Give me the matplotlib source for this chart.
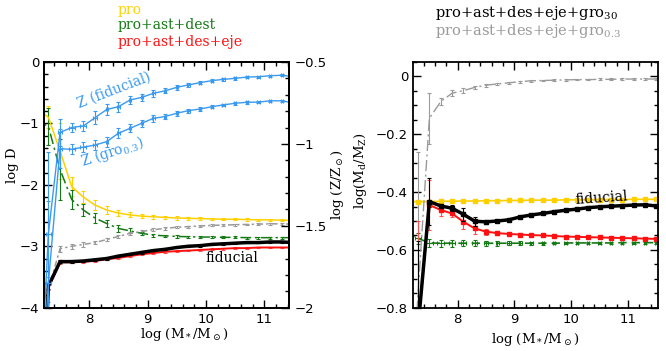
import matplotlib
matplotlib.use('Agg')

import matplotlib.pyplot as plt
import numpy as np

plt.rcParams['mathtext.fontset'] = 'dejavuserif'

# ---------------------------
# DATA
# ---------------------------
mass = [7.1, 7.3, 7.5, 7.7, 7.9, 8.1, 8.3, 8.5, 8.7, 8.9, 9.1, 9.3,
        9.5, 9.7, 9.9, 10.1, 10.3, 10.5, 10.7, 10.9, 11.1, 11.3, 11.5]

# left panel: log D
logD_pro = [-0.75, -0.90, -1.45, -2.03, -2.20, -2.33, -2.41, -2.46, -2.49, -2.51, -2.52, -2.53,
            -2.54, -2.545, -2.55, -2.555, -2.56, -2.56, -2.565, -2.57, -2.57, -2.575, -2.58]
logD_pro_err = [0.2, 0.18, 0.45, 0.15, 0.10, 0.08, 0.06, 0.05, 0.04, 0.035, 0.03, 0.03,
                0.025, 0.02, 0.02, 0.02, 0.02, 0.02, 0.02, 0.02, 0.02, 0.02, 0.02]

logD_dest = [-0.95, -1.05, -1.75, -2.24, -2.41, -2.54, -2.63, -2.71, -2.75, -2.79, -2.82, -2.83,
             -2.84, -2.845, -2.85, -2.85, -2.855, -2.855, -2.86, -2.86, -2.86, -2.86, -2.86]
logD_dest_err = [0.2, 0.3, 0.5, 0.15, 0.10, 0.08, 0.06, 0.05, 0.04, 0.03, 0.025, 0.02,
                 0.02, 0.02, 0.015, 0.015, 0.015, 0.015, 0.015, 0.015, 0.015, 0.015, 0.015]

logD_gro03 = [-5.0, -3.70, -3.04, -3.00, -2.97, -2.94, -2.89, -2.84, -2.79, -2.76, -2.73, -2.71,
              -2.69, -2.68, -2.67, -2.66, -2.655, -2.65, -2.645, -2.64, -2.635, -2.635, -2.64]
logD_gro03_err = [0.2, 0.2, 0.05, 0.04, 0.035, 0.03, 0.03, 0.025, 0.02, 0.02, 0.02, 0.02,
                  0.015, 0.015, 0.015, 0.015, 0.015, 0.015, 0.015, 0.015, 0.015, 0.015, 0.015]

logD_eje = [-8.0, -3.67, -3.26, -3.26, -3.25, -3.24, -3.21, -3.19, -3.16, -3.13, -3.11, -3.09,
            -3.08, -3.07, -3.06, -3.05, -3.04, -3.03, -3.03, -3.02, -3.02, -3.02, -3.02]
logD_fid = [-8.0, -3.65, -3.25, -3.25, -3.24, -3.22, -3.20, -3.16, -3.13, -3.10, -3.07, -3.05,
            -3.02, -3.00, -2.99, -2.97, -2.96, -2.95, -2.94, -2.94, -2.93, -2.93, -2.94]
logD_small_err = [0.05, 0.05, 0.03, 0.02, 0.02, 0.02, 0.02, 0.02, 0.02, 0.02, 0.015, 0.015,
                  0.015, 0.015, 0.015, 0.015, 0.015, 0.015, 0.015, 0.015, 0.015, 0.015, 0.015]

# left panel, right axis: log Z/Zsun
logZ_fid = [-3.0, -1.55, -0.93, -0.90, -0.89, -0.84, -0.79, -0.773, -0.732, -0.716, -0.691, -0.676,
            -0.655, -0.64, -0.626, -0.614, -0.606, -0.60, -0.592, -0.59, -0.584, -0.581, -0.59]
logZ_fid_err = [0.5, 0.5, 0.08, 0.03, 0.03, 0.04, 0.035, 0.03, 0.025, 0.02, 0.02, 0.015,
                0.015, 0.012, 0.01, 0.01, 0.008, 0.008, 0.008, 0.007, 0.007, 0.007, 0.007]
logZ_gro03 = [-3.0, -1.85, -1.03, -1.033, -1.02, -1.007, -0.986, -0.935, -0.905, -0.874, -0.844, -0.833,
              -0.813, -0.797, -0.787, -0.773, -0.762, -0.752, -0.746, -0.745, -0.737, -0.737, -0.75]
logZ_gro03_err = [0.5, 0.5, 0.12, 0.03, 0.03, 0.03, 0.03, 0.03, 0.025, 0.02, 0.02, 0.015,
                  0.015, 0.012, 0.01, 0.01, 0.008, 0.008, 0.008, 0.007, 0.007, 0.007, 0.007]
logZ_xerr = [0.04, 0.04, 0.04, 0.05, 0.05, 0.03, 0.02, 0.02, 0.02, 0.02, 0.02, 0.02,
             0.02, 0.02, 0.02, 0.02, 0.02, 0.02, 0.02, 0.02, 0.02, 0.02, 0.02]

# right panel: log(Md/MZ)
ratio_pro = [-0.433, -0.433, -0.433, -0.432, -0.432, -0.431, -0.431, -0.430, -0.430, -0.429, -0.429, -0.428,
             -0.428, -0.428, -0.427, -0.427, -0.427, -0.426, -0.426, -0.426, -0.425, -0.425, -0.425]
ratio_dest = [-0.545, -0.56, -0.576, -0.577, -0.577, -0.577, -0.577, -0.577, -0.577, -0.577, -0.577, -0.577,
              -0.577, -0.577, -0.576, -0.576, -0.576, -0.576, -0.576, -0.575, -0.575, -0.575, -0.575]
ratio_dest_err = [0.02, 0.02, 0.015, 0.012, 0.012, 0.01, 0.01, 0.008, 0.008, 0.006, 0.006, 0.005,
                  0.005, 0.004, 0.004, 0.004, 0.004, 0.003, 0.003, 0.003, 0.003, 0.003, 0.003]
ratio_dest_xerr = [0.06, 0.06, 0.07, 0.06, 0.05, 0.04, 0.04, 0.035, 0.03, 0.03, 0.025, 0.02,
                   0.02, 0.02, 0.02, 0.02, 0.02, 0.02, 0.02, 0.02, 0.02, 0.02, 0.02]
ratio_eje = [-1.3, -0.87, -0.445, -0.462, -0.474, -0.503, -0.526, -0.537, -0.542, -0.545, -0.547, -0.549,
             -0.550, -0.552, -0.554, -0.555, -0.556, -0.557, -0.558, -0.559, -0.560, -0.561, -0.562]
ratio_eje_err = [0.3, 0.37, 0.087, 0.02, 0.012, 0.025, 0.02, 0.01, 0.006, 0.005, 0.004, 0.004,
                 0.003, 0.003, 0.003, 0.003, 0.003, 0.003, 0.003, 0.003, 0.003, 0.003, 0.003]
ratio_fid = [-1.3, -0.87, -0.433, -0.448, -0.456, -0.477, -0.501, -0.503, -0.500, -0.496, -0.486, -0.479,
             -0.474, -0.468, -0.463, -0.459, -0.454, -0.451, -0.449, -0.447, -0.445, -0.444, -0.448]
ratio_fid_err = [0.3, 0.3, 0.08, 0.008, 0.01, 0.023, 0.015, 0.006, 0.005, 0.004, 0.004, 0.003,
                 0.003, 0.003, 0.003, 0.003, 0.003, 0.003, 0.003, 0.003, 0.003, 0.003, 0.003]
ratio_gro03 = [-1.5, -0.75, -0.145, -0.087, -0.058, -0.049, -0.038, -0.030, -0.026, -0.022, -0.018, -0.015,
               -0.014, -0.013, -0.012, -0.011, -0.011, -0.010, -0.010, -0.009, -0.009, -0.009, -0.009]
ratio_gro03_err = [0.4, 0.49, 0.088, 0.012, 0.01, 0.008, 0.006, 0.005, 0.004, 0.003, 0.003, 0.003,
                   0.003, 0.003, 0.003, 0.003, 0.003, 0.003, 0.003, 0.003, 0.003, 0.003, 0.003]

# ---------------------------
# STYLE
# ---------------------------
c_pro = '#ffd000'
c_dest = '#137a13'
c_eje = '#ff1010'
c_fid = 'black'
c_gro = '#9a9a9a'
c_blue = '#3a9af0'

serif = 'DejaVu Serif'

fig = plt.figure(figsize=(6.66, 3.51), dpi=100)
ax = fig.add_axes([0.0665, 0.1234, 0.368, 0.70])
ax_z = ax.twinx()
ax_r = fig.add_axes([0.620, 0.1234, 0.368, 0.70])


def eb(axis, y, yerr, color, lw=1.0, dashes=None, xerr=None, ecolor=None, z=2):
    line, caps, bars = axis.errorbar(mass, y, yerr=yerr, xerr=xerr, color=color, lw=lw,
                                     ecolor=ecolor or color, elinewidth=0.8, capsize=1.6,
                                     capthick=0.8, zorder=z)
    if dashes is not None:
        line.set_dashes(dashes)
    return line


# ---------------------------
# LEFT PANEL
# ---------------------------
eb(ax, logD_pro, logD_pro_err, c_pro, lw=1.1)
eb(ax, logD_dest, logD_dest_err, c_dest, lw=1.1, dashes=(7, 2.5, 1.5, 2.5))
eb(ax, logD_gro03, logD_gro03_err, c_gro, lw=1.1, dashes=(4, 2, 1.5, 2))
eb(ax, logD_eje, logD_small_err, c_eje, lw=1.4, ecolor='#ff5050')
eb(ax, logD_fid, logD_small_err, c_fid, lw=2.5, z=3)

eb(ax_z, logZ_fid, logZ_fid_err, c_blue, lw=1.0, xerr=logZ_xerr)
eb(ax_z, logZ_gro03, logZ_gro03_err, c_blue, lw=1.0, xerr=logZ_xerr)

ax.set_xlim(7.23, 11.43)
ax.set_ylim(-4, 0)
ax_z.set_ylim(-2, -0.5)

ax.set_xticks([8, 9, 10, 11])
ax.set_xticks(np.arange(7.4, 11.5, 0.2), minor=True)
ax.set_yticks([-4, -3, -2, -1, 0])
ax.set_yticks(np.arange(-4, 0.01, 0.2), minor=True)
ax_z.set_yticks([-2, -1.5, -1, -0.5])
ax_z.set_yticks(np.arange(-2, -0.49, 0.1), minor=True)
ax_z.set_yticklabels(['\u22122', '\u22121.5', '\u22121', '\u22120.5'])

ax.tick_params(which='both', direction='in', top=True, right=False, labelsize=9.5)
ax.tick_params(which='major', length=6, width=1)
ax.tick_params(which='minor', length=3, width=1)
ax_z.tick_params(which='both', direction='in', labelsize=9.5)
ax_z.tick_params(which='major', length=6, width=1)
ax_z.tick_params(which='minor', length=3, width=1)

for a in (ax, ax_z, ax_r):
    for s in a.spines.values():
        s.set_linewidth(1.3)

ax.set_xlabel(r'log (M$_*$/M$_\odot$)', family=serif, fontsize=9.5, labelpad=4)
ax.xaxis.set_label_coords(0.57, -0.075)
ax.set_ylabel('log D', family=serif, fontsize=9.5, labelpad=2)
ax.yaxis.set_label_coords(-0.105, 0.58)
ax_z.set_ylabel(r'log (Z/Z$_\odot$)', family=serif, fontsize=9.5, labelpad=2)

ax.text(8.42, -0.46, 'Z (fiducial)', color=c_blue, family=serif, fontsize=10,
        rotation=21, ha='center', va='center')
ax.text(8.4, -1.47, r'Z (gro$_{0.3}$)', color=c_blue, family=serif, fontsize=10,
        rotation=18, ha='center', va='center')
ax.text(10.44, -3.19, 'fiducial', color='black', family=serif, fontsize=10,
        ha='center', va='center')

# ---------------------------
# RIGHT PANEL
# ---------------------------
eb(ax_r, ratio_pro, None, c_pro, lw=1.2)
eb(ax_r, ratio_dest, ratio_dest_err, c_dest, lw=1.2, dashes=(5, 3), xerr=ratio_dest_xerr)
eb(ax_r, ratio_gro03, ratio_gro03_err, c_gro, lw=1.0, dashes=(8, 2.5, 1.5, 2.5))
eb(ax_r, ratio_eje, ratio_eje_err, c_eje, lw=1.4, ecolor='#ff5050')
eb(ax_r, ratio_fid, ratio_fid_err, c_fid, lw=2.5, z=3)
ax_r.plot(mass, ratio_pro, ls='none', marker='s', ms=2.2, color=c_pro)
ax_r.plot(mass[2:], ratio_eje[2:], ls='none', marker='s', ms=2.2, color=c_eje)
ax_r.plot(mass[2:], ratio_fid[2:], ls='none', marker='s', ms=2.8, color=c_fid, zorder=4)

ax_r.set_xlim(7.21, 11.53)
ax_r.set_ylim(-0.8, 0.05)
ax_r.set_xticks([8, 9, 10, 11])
ax_r.set_xticks(np.arange(7.4, 11.5, 0.2), minor=True)
ax_r.set_yticks([-0.8, -0.6, -0.4, -0.2, 0])
ax_r.set_yticklabels(['\u22120.8', '\u22120.6', '\u22120.4', '\u22120.2', '0'])
ax_r.set_yticks(np.arange(-0.8, 0.051, 0.05), minor=True)
ax_r.tick_params(which='both', direction='in', top=True, right=True, labelsize=9.5)
ax_r.tick_params(which='major', length=6, width=1)
ax_r.tick_params(which='minor', length=3, width=1)

ax_r.set_xlabel(r'log (M$_*$/M$_\odot$)', family=serif, fontsize=9.5, labelpad=4)
ax_r.set_ylabel(r'log(M$_{\rm d}$/M$_{\rm Z}$)', family=serif, fontsize=9.5, labelpad=2)
ax_r.yaxis.set_label_coords(-0.18, 0.56)
ax_r.text(10.53, -0.42, 'fiducial', color='black', family=serif, fontsize=10,
          rotation=4, ha='center', va='center')

# ---------------------------
# TOP LEGEND TEXT
# ---------------------------
fig.text(0.176, 0.972, 'pro', color=c_pro, family=serif, fontsize=10, va='center')
fig.text(0.176, 0.928, 'pro+ast+dest', color=c_dest, family=serif, fontsize=10, va='center')
fig.text(0.176, 0.880, 'pro+ast+des+eje', color=c_eje, family=serif, fontsize=10, va='center')
fig.text(0.653, 0.962, r'pro+ast+des+eje+gro$_{30}$', color='black', family=serif,
         fontsize=10.5, va='center')
fig.text(0.653, 0.911, r'pro+ast+des+eje+gro$_{0.3}$', color=c_gro, family=serif,
         fontsize=10.5, va='center')

fig.savefig('out.png', dpi=100)
